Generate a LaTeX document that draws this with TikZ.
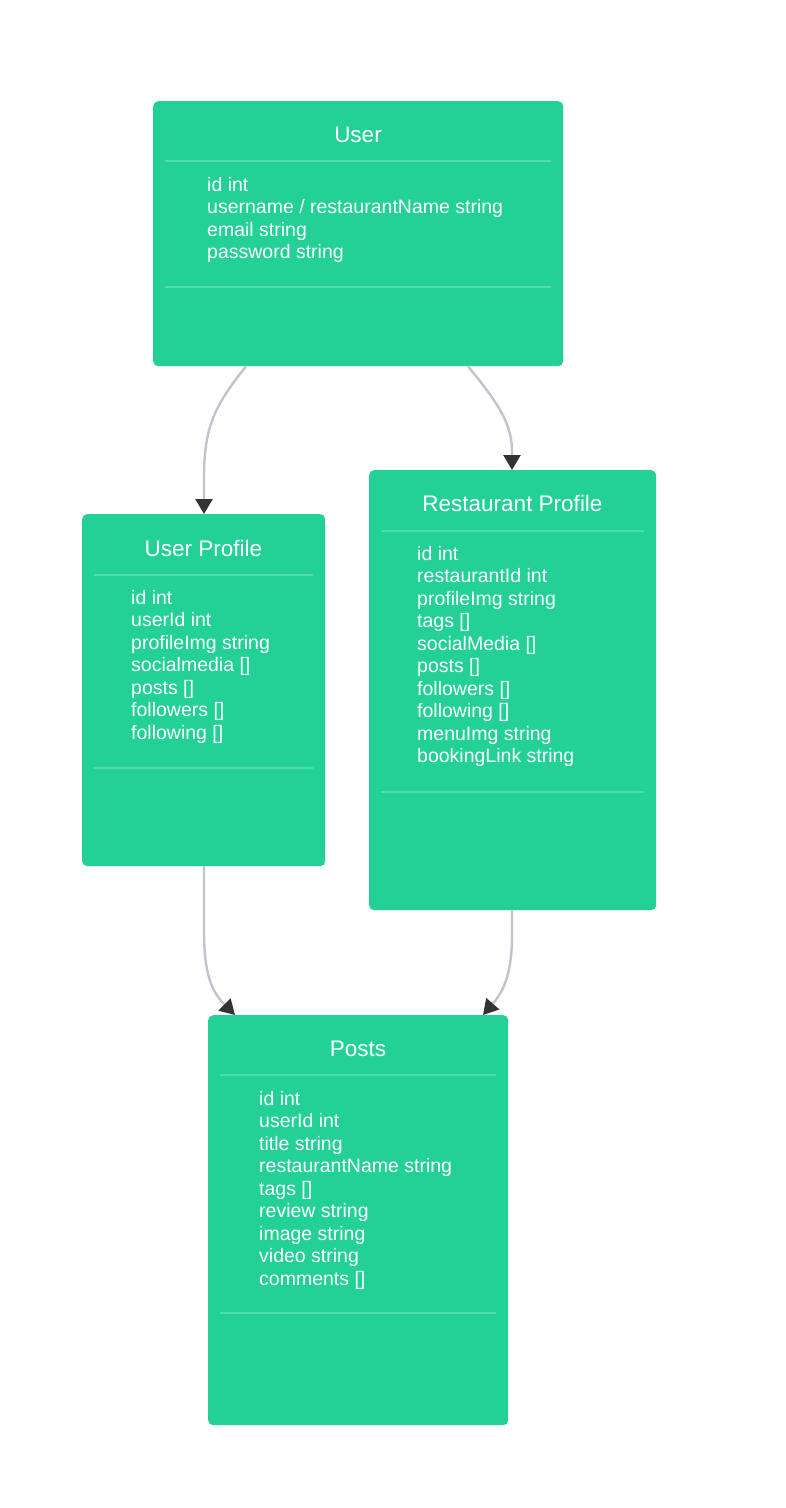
\documentclass[tikz,border=0pt]{standalone}
\usepackage{fontspec}
\setmainfont{Liberation Sans}
\usetikzlibrary{arrows.meta}
\definecolor{boxgreen}{HTML}{23D096}
\definecolor{divgreen}{HTML}{52DCAB}
\definecolor{edgegray}{HTML}{C0C4CE}
\definecolor{tipdark}{HTML}{333333}
\tikzset{
  entity/.style={draw=none, fill=boxgreen, rounded corners=5pt, anchor=north west, inner sep=0pt},
  etitle/.style={text=white, font=\fontsize{22.5}{27}\selectfont, anchor=base, inner sep=0pt},
  attr/.style={text=white, font=\fontsize{19.5}{22.5}\selectfont, anchor=base west, inner sep=0pt},
  divider/.style={draw=divgreen, line width=1.2pt},
  rel/.style={draw=edgegray, line width=2.4pt, -{Triangle[length=15pt,width=17pt,fill=tipdark,color=tipdark]}}
}
\begin{document}
\begin{tikzpicture}[x=1pt,y=-1pt]
\useasboundingbox (0,0) rectangle (786,1508);
\fill[white] (0,0) rectangle (786,1508);

% User
\node[entity, minimum width=410pt, minimum height=265pt] (user) at (153,101) {};
\node[etitle] (usertitle) at (358,142) {User};
\draw[divider] (165,161) -- (551,161);
\foreach \t [count=\i from 0] in {id int, username / restaurantName string, email string, password string}
  \node[attr] at (207,191+22.5*\i) {\t};
\draw[divider] (165,287) -- (551,287);

% User Profile
\node[entity, minimum width=243pt, minimum height=352pt] (uprof) at (82,514) {};
\node[etitle] (uproftitle) at (203.5,556) {User Profile};
\draw[divider] (94,575) -- (313,575);
\foreach \t [count=\i from 0] in {id int, userId int, profileImg string, socialmedia {[]}, posts {[]}, followers {[]}, following {[]}}
  \node[attr] at (131,604+22.5*\i) {\t};
\draw[divider] (94,768) -- (313,768);

% Restaurant Profile
\node[entity, minimum width=287pt, minimum height=440pt] (rprof) at (369,470) {};
\node[etitle] (rproftitle) at (512.5,511) {Restaurant Profile};
\draw[divider] (381,531) -- (644,531);
\foreach \t [count=\i from 0] in {id int, restaurantId int, profileImg string, tags {[]}, socialMedia {[]}, posts {[]}, followers {[]}, following {[]}, menuImg string, bookingLink string}
  \node[attr] at (417,560+22.5*\i) {\t};
\draw[divider] (381,792) -- (644,792);

% Posts
\node[entity, minimum width=300pt, minimum height=410pt] (posts) at (208,1015) {};
\node[etitle] (poststitle) at (358,1056) {Posts};
\draw[divider] (220,1075) -- (496,1075);
\foreach \t [count=\i from 0] in {id int, userId int, title string, restaurantName string, tags {[]}, review string, image string, video string, comments {[]}}
  \node[attr] at (259,1105+22.5*\i) {\t};
\draw[divider] (220,1313) -- (496,1313);

% Relations
\draw[rel] ([xshift=93pt]user.south west) .. controls (214,406) and (204,428) .. (204,478) -- ([xshift=122pt]uprof.north west);
\draw[rel] ([xshift=315pt]user.south west) .. controls (500,405) and (512,425) .. (512,452) -- ([xshift=143pt]rprof.north west);
\draw[rel] ([xshift=122pt]uprof.south west) -- (204,930) .. controls (204,975) and (212,992) .. ([xshift=27pt]posts.north west);
\draw[rel] ([xshift=143pt]rprof.south west) -- (512,935) .. controls (512,975) and (503,992) .. ([xshift=275pt]posts.north west);
\end{tikzpicture}
\end{document}
